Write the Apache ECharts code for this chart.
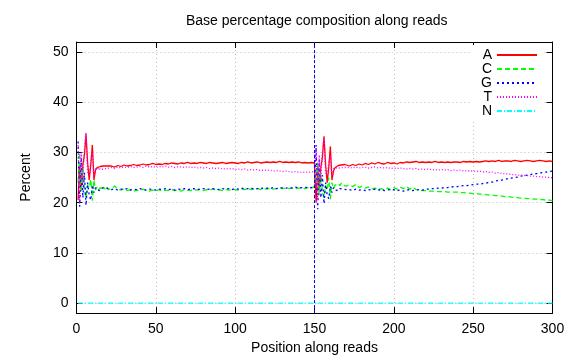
<!DOCTYPE html>
<html><head><meta charset="utf-8">
<script src="https://cdn.jsdelivr.net/npm/echarts@6/dist/echarts.min.js"></script>
<style>html,body{margin:0;padding:0;background:#fff}#c{width:576px;height:360px}</style>
</head><body><div id="c"></div>
<script>
const chartTitle = 'Base percentage composition along reads';
const xName = 'Position along reads';
const yName = 'Percent';
const bases = ['A', 'C', 'G', 'T', 'N'];
const yTicks = [0, 10, 20, 30, 40, 50];
const readSplit = 150;

const positions = [
  1,2,3,4,5,6,7,8,9,10,11,12,13,14,15,16,17,18,19,20,
  22,24,26,28,30,32,34,36,38,40,
  42,44,46,48,50,52,54,56,58,60,
  62,64,66,68,70,72,74,76,78,80,
  82,84,86,88,90,92,94,96,98,100,
  102,104,106,108,110,112,114,116,118,120,
  122,124,126,128,130,132,134,136,138,140,
  142,144,146,148,
  149,150,151,152,153,154,155,156,157,158,159,160,161,162,163,164,165,166,167,168,169,170,
  172,174,176,178,180,182,184,186,188,190,192,194,196,198,200,202,204,206,208,210,
  212,214,216,218,220,222,224,226,228,230,232,234,236,238,240,242,244,246,248,250,
  252,254,256,258,260,262,264,266,268,270,272,274,276,278,280,282,284,286,288,290,
  292,294,296,298,300
];

const A = [
  20.5,28.0,22.5,27.5,29.5,33.6,28.0,24.5,27.5,31.5,24.5,26.5,27.0,26.8,27.2,27.0,27.3,27.1,27.3,27.2,
  27.3,27.1,27.4,27.2,27.5,27.3,27.4,27.6,27.4,27.5,
  27.7,27.5,27.6,27.8,27.6,27.7,27.6,27.8,27.7,27.9,
  27.8,27.7,27.9,27.8,28.0,27.8,27.9,27.8,28.0,27.9,
  27.8,28.0,27.9,27.8,27.9,28.0,27.8,27.9,28.0,27.9,
  27.8,28.0,27.9,28.1,27.9,28.0,28.1,27.9,28.0,28.1,
  28.0,28.1,28.0,28.2,28.0,28.1,28.0,28.1,28.0,28.1,
  27.9,28.0,27.9,28.0,
  28.0,27.9,20.0,27.5,22.5,27.0,29.0,33.2,27.5,24.0,27.0,31.2,24.5,26.3,27.0,26.8,27.4,27.2,27.5,27.3,27.6,27.4,
  27.3,27.6,27.4,27.7,27.5,27.8,27.6,27.9,27.7,28.0,27.8,27.7,28.0,27.8,27.9,27.7,28.0,27.9,28.1,28.0,
  28.1,28.2,28.0,28.1,28.0,28.1,28.0,28.2,28.0,28.1,28.0,28.1,28.0,28.1,28.1,28.0,28.2,28.1,28.2,28.1,
  28.2,28.1,28.2,28.3,28.2,28.3,28.2,28.4,28.2,28.3,28.3,28.2,28.4,28.3,28.2,28.3,28.4,28.3,28.2,28.3,
  28.4,28.3,28.2,28.3,28.2
];

const C = [
  24.0,30.0,22.0,27.0,22.5,21.0,23.5,23.0,24.6,20.4,24.5,22.5,23.2,22.6,23.0,22.5,23.1,22.7,23.2,22.6,
  22.8,23.3,22.7,22.5,22.8,22.4,22.6,22.3,22.5,22.4,
  22.7,22.5,22.3,22.5,22.4,22.6,22.3,22.5,22.4,22.6,
  22.4,22.5,22.3,22.6,22.5,22.4,22.6,22.5,22.6,22.4,
  22.6,22.5,22.7,22.5,22.6,22.4,22.6,22.5,22.7,22.6,
  22.5,22.7,22.6,22.8,22.6,22.7,22.8,22.6,22.8,22.7,
  22.9,22.7,22.8,22.9,22.8,22.9,22.8,23.0,22.8,22.9,
  23.0,22.8,23.0,22.9,
  23.0,23.2,24.0,28.0,21.5,26.0,22.0,21.0,23.5,22.5,25.0,20.7,24.0,22.8,23.5,23.2,23.8,23.4,23.9,23.5,23.7,23.3,
  23.5,23.2,23.6,23.0,23.3,22.9,23.1,22.7,22.9,22.6,22.8,22.5,22.9,22.6,23.0,22.7,23.1,22.8,23.2,22.7,
  23.1,22.6,22.5,22.4,22.4,22.3,22.3,22.3,22.2,22.2,22.2,22.1,22.1,22.1,22.1,22.0,22.0,21.9,21.9,21.8,
  21.8,21.7,21.7,21.6,21.5,21.5,21.4,21.4,21.3,21.2,21.2,21.1,21.0,21.0,20.9,20.9,20.8,20.8,20.7,20.7,
  20.6,20.6,20.5,20.5,20.4
];

const G = [
  32.2,19.2,29.0,21.0,26.0,19.5,24.0,21.5,20.5,23.5,22.0,23.0,22.5,22.8,22.4,22.9,22.6,23.0,22.7,22.8,
  22.6,22.8,22.5,22.7,22.6,22.8,22.5,22.7,22.6,22.8,
  22.6,22.5,22.7,22.6,22.5,22.7,22.6,22.8,22.6,22.7,
  22.5,22.7,22.6,22.8,22.6,22.7,22.8,22.6,22.7,22.8,
  22.6,22.7,22.8,22.7,22.6,22.8,22.7,22.8,22.6,22.8,
  22.7,22.9,22.7,22.8,22.9,22.7,22.8,22.9,22.8,22.9,
  22.8,23.0,22.8,22.9,23.0,22.9,23.0,22.9,23.1,22.9,
  23.0,23.1,22.9,23.0,
  23.0,23.1,31.5,18.7,28.5,21.0,25.5,19.8,24.0,21.5,20.8,23.3,22.0,23.0,22.5,22.7,22.4,22.8,22.5,22.7,22.5,22.6,
  22.6,22.4,22.7,22.5,22.6,22.4,22.6,22.5,22.7,22.5,22.6,22.4,22.6,22.5,22.6,22.4,22.5,22.3,22.5,22.6,
  22.4,22.5,22.6,22.5,22.7,22.7,22.8,22.8,22.9,22.9,23.0,23.0,23.1,23.2,23.2,23.3,23.4,23.4,23.5,23.6,
  23.7,23.7,23.8,23.9,24.0,24.1,24.3,24.4,24.5,24.6,24.8,24.9,25.0,25.1,25.3,25.4,25.5,25.6,25.7,25.8,
  25.9,26.0,26.1,26.2,26.3
];

const T = [
  31.5,20.0,30.0,24.0,31.0,34.0,26.0,25.5,28.5,30.0,25.0,27.0,26.5,27.0,26.6,26.9,26.7,27.0,26.8,27.0,
  27.0,26.8,27.1,26.9,27.1,27.0,27.2,27.0,27.1,27.2,
  27.0,27.3,27.1,27.2,27.0,27.2,27.1,27.3,27.1,27.2,
  27.0,27.2,27.1,27.0,27.2,27.0,27.1,26.9,27.0,26.9,
  27.0,26.8,26.9,26.8,26.9,26.7,26.8,26.7,26.8,26.6,
  26.7,26.6,26.7,26.5,26.6,26.5,26.6,26.4,26.5,26.4,
  26.5,26.3,26.4,26.3,26.2,26.3,26.2,26.1,26.2,26.1,
  26.0,26.1,26.0,26.1,
  26.0,26.2,31.0,20.5,29.5,24.5,30.5,33.0,26.0,25.5,28.0,29.5,25.0,26.8,26.5,26.9,26.6,26.9,26.7,27.0,26.8,27.0,
  27.0,26.9,27.1,26.9,27.0,27.1,26.9,27.0,27.1,26.9,27.0,26.9,27.0,26.8,26.9,26.8,26.9,26.8,26.7,26.8,
  26.7,26.8,26.6,26.7,26.6,26.7,26.5,26.6,26.5,26.6,26.5,26.6,26.4,26.5,26.4,26.5,26.3,26.4,26.3,26.3,
  26.2,26.3,26.1,26.2,26.0,26.1,25.9,26.0,25.8,25.8,25.7,25.6,25.6,25.5,25.5,25.4,25.4,25.3,25.3,25.2,
  25.2,25.1,25.1,25.0,25.0
];

const nPositions = [1, 100, 101, 102, 300];
const N = [0, 0, 0.3, 0, 0];

const FONT = "'Liberation Sans', Arial, Helvetica, sans-serif";
const pair = (xs, ys) => xs.map((x, i) => [x, ys[i]]);

const styles = {
  A: { color: '#ff0000', type: 'solid' },
  C: { color: '#00ff00', type: [5, 3] },
  G: { color: '#0000ff', type: [2, 3] },
  T: { color: '#ff00ff', type: [1, 2] },
  N: { color: '#00ffff', type: [5, 2, 1, 2] }
};
const seriesData = { A: pair(positions, A), C: pair(positions, C), G: pair(positions, G), T: pair(positions, T), N: pair(nPositions, N) };

const series = bases.map(b => ({
  name: b,
  type: 'line',
  data: seriesData[b],
  symbol: 'none',
  showSymbol: false,
  color: styles[b].color,
  lineStyle: { color: styles[b].color, width: 1.3, type: styles[b].type },
  z: 3
}));
series.push({
  name: 'split',
  type: 'line',
  data: [],
  symbol: 'none',
  color: '#0000ff',
  silent: true,
  markLine: {
    silent: true, symbol: 'none', label: { show: false },
    itemStyle: { color: '#0000ff' },
    lineStyle: { color: '#0000ff', width: 1, type: [3, 2] },
    data: [{ xAxis: readSplit, lineStyle: { color: '#0000ff' } }]
  }
});

const gridLine = { show: true, lineStyle: { color: '#b8b8b8', width: 1, type: [1, 3] } };
const axisLine = { show: true, onZero: false, lineStyle: { color: '#000', width: 1 } };
const tick = { show: true, inside: true, length: 6, lineStyle: { color: '#000', width: 1 } };
const labelStyle = { color: '#000', fontSize: 14, fontFamily: FONT };

const chart = echarts.init(document.getElementById('c'), null, { renderer: 'canvas' });
chart.setOption({
  animation: false,
  backgroundColor: '#fff',
  title: {
    text: chartTitle, left: 186, top: 14, padding: 0,
    textStyle: { fontSize: 14, fontWeight: 'normal', fontFamily: FONT, color: '#000' }
  },
  grid: { left: 76.5, right: 23.5, top: 42, bottom: 46, containLabel: false },
  legend: {
    data: bases, orient: 'vertical', align: 'right', right: 34, top: 45,
    itemWidth: 40, itemHeight: 14, itemGap: 0, padding: [3, 4, 3, 9],
    backgroundColor: '#fff',
    itemStyle: { color: 'transparent', borderColor: 'transparent', borderWidth: 0, opacity: 0 },
    textStyle: { fontSize: 14, fontFamily: FONT, color: '#000', lineHeight: 14 }
  },
  xAxis: [
    {
      type: 'value', min: 0, max: 300, interval: 50, position: 'bottom',
      axisLine, axisTick: tick,
      axisLabel: Object.assign({ margin: 9 }, labelStyle),
      splitLine: gridLine,
      name: xName, nameLocation: 'middle', nameGap: 27,
      nameTextStyle: labelStyle
    },
    {
      type: 'value', min: 0, max: 300, interval: 50, position: 'top',
      axisLine, axisTick: tick, axisLabel: { show: false }, splitLine: { show: false }
    }
  ],
  yAxis: [
    {
      type: 'value', min: -2, max: 52, position: 'left',
      axisLine, axisTick: Object.assign({ customValues: yTicks }, tick),
      axisLabel: Object.assign({ margin: 8, customValues: yTicks }, labelStyle),
      splitLine: gridLine,
      name: yName, nameLocation: 'middle', nameGap: 43, nameRotate: 90,
      nameTextStyle: labelStyle
    },
    {
      type: 'value', min: -2, max: 52, position: 'right',
      axisLine, axisTick: Object.assign({ customValues: yTicks }, tick),
      axisLabel: { show: false }, splitLine: { show: false }
    }
  ],
  series
});
</script>
</body></html>
